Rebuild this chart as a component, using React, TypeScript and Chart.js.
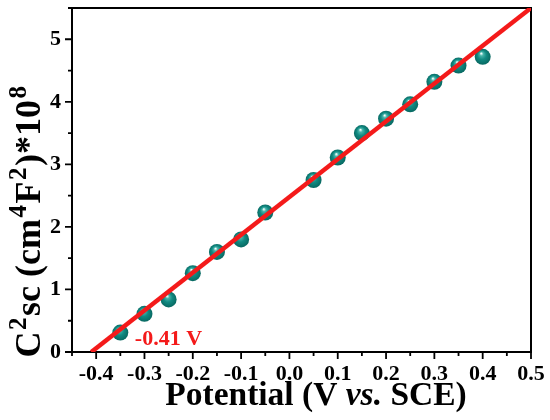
import { useEffect, useRef } from 'react';
import { Chart, registerables, type Plugin } from 'chart.js';

Chart.register(...registerables);

const potentials = [-0.35, -0.3, -0.25, -0.2, -0.15, -0.1, -0.05, 0.05, 0.1, 0.15, 0.2, 0.25, 0.3, 0.35, 0.4];
const cscValues = [0.31, 0.61, 0.84, 1.26, 1.6, 1.8, 2.23, 2.75, 3.11, 3.5, 3.73, 3.96, 4.32, 4.58, 4.72];
const fitX = [-0.41, 0.5];
const fitY = [0, 5.5];
const flatbandLabel = '-0.41 V';

const SERIF = '"Liberation Serif", "Times New Roman", serif';
const TEAL = '#128a82';
const RED = '#f41a1a';

function isMajor(v: number, step: number) {
  const r = v / step;
  return Math.abs(r - Math.round(r)) < 1e-6;
}

const framePlugin: Plugin = {
  id: 'frame',
  beforeDatasetsDraw(chart) {
    const { ctx, chartArea: a, scales } = chart;
    ctx.save();
    ctx.strokeStyle = '#000';
    ctx.lineWidth = 2;
    ctx.strokeRect(a.left, a.top, a.right - a.left, a.bottom - a.top);
    ctx.lineWidth = 1.8;
    ctx.beginPath();
    for (const t of scales.x.ticks) {
      const px = scales.x.getPixelForValue(t.value);
      const len = isMajor(t.value, 0.1) ? 7 : 4;
      ctx.moveTo(px, a.bottom);
      ctx.lineTo(px, a.bottom + len);
    }
    for (const t of scales.y.ticks) {
      const py = scales.y.getPixelForValue(t.value);
      const len = isMajor(t.value, 1) ? 7 : 4;
      ctx.moveTo(a.left, py);
      ctx.lineTo(a.left - len, py);
    }
    ctx.stroke();
    ctx.restore();
  },
  afterDraw(chart) {
    const { ctx, scales } = chart;
    ctx.save();
    // flat-band annotation
    ctx.fillStyle = RED;
    ctx.font = `bold 22px ${SERIF}`;
    ctx.textBaseline = 'alphabetic';
    ctx.textAlign = 'left';
    ctx.fillText(flatbandLabel, scales.x.getPixelForValue(-0.32), scales.y.getPixelForValue(0.11));

    // x title with italic "vs."
    ctx.fillStyle = '#000';
    const parts: [string, string][] = [
      ['Potential (V ', `bold 33.5px ${SERIF}`],
      ['vs.', `italic bold 33.5px ${SERIF}`],
      [' SCE)', `bold 33.5px ${SERIF}`],
    ];
    let total = 0;
    for (const [s, f] of parts) {
      ctx.font = f;
      total += ctx.measureText(s).width;
    }
    let x = 316 - total / 2;
    for (const [s, f] of parts) {
      ctx.font = f;
      ctx.fillText(s, x, 405);
      x += ctx.measureText(s).width;
    }

    // y title with superscripts
    const ypieces: [string, boolean][] = [
      ['C', false], ['2', true], ['sc (cm', false], ['4', true], ['F', false], ['2', true], [')*10', false], ['8', true],
    ];
    const big = `bold 36px ${SERIF}`;
    const small = `bold 25px ${SERIF}`;
    let ylen = 0;
    for (const [s, sup] of ypieces) {
      ctx.font = sup ? small : big;
      ylen += ctx.measureText(s).width + (sup ? 3 : 0);
    }
    ctx.translate(40, 221);
    ctx.rotate(-Math.PI / 2);
    let yx = -ylen / 2;
    for (const [s, sup] of ypieces) {
      ctx.font = sup ? small : big;
      ctx.fillText(s, yx + (sup ? 1.5 : 0), sup ? -14 : 0);
      yx += ctx.measureText(s).width + (sup ? 3 : 0);
    }
    ctx.restore();
  },
};

export default function App() {
  const canvasRef = useRef<HTMLCanvasElement | null>(null);

  useEffect(() => {
    const canvas = canvasRef.current;
    if (!canvas) return;

    const chart = new Chart(canvas, {
      type: 'scatter',
      data: {
        datasets: [
          {
            type: 'line',
            data: fitX.map((x, i) => ({ x, y: fitY[i] })),
            borderColor: RED,
            borderWidth: 4.5,
            pointRadius: 0,
            fill: false,
            order: 0,
          },
          {
            type: 'scatter',
            data: potentials.map((x, i) => ({ x, y: cscValues[i] })),
            pointRadius: 8,
            borderWidth: 0,
            backgroundColor: (c: any) => {
              const ch = c.chart;
              if (!c.parsed || !ch.scales?.x || !ch.scales?.y) return TEAL;
              const px = ch.scales.x.getPixelForValue(c.parsed.x);
              const py = ch.scales.y.getPixelForValue(c.parsed.y);
              if (!Number.isFinite(px) || !Number.isFinite(py)) return TEAL;
              const g = ch.ctx.createRadialGradient(px - 1.5, py - 3.5, 0.3, px, py, 8.5);
              g.addColorStop(0, '#f4fffd');
              g.addColorStop(0.2, '#46b3a9');
              g.addColorStop(0.5, '#118a82');
              g.addColorStop(1, '#07655e');
              return g;
            },
            order: 1,
          },
        ],
      },
      options: {
        animation: false,
        responsive: false,
        layout: { padding: { top: 8, right: 19, left: 0, bottom: 0 } },
        plugins: { legend: { display: false }, tooltip: { enabled: false } },
        scales: {
          x: {
            type: 'linear',
            min: -0.45,
            max: 0.5,
            grid: { display: false, drawTicks: false },
            border: { display: false },
            afterFit: (s: any) => {
              s.height = 68;
              s.paddingLeft = 0;
              s.paddingRight = 0;
            },
            ticks: {
              stepSize: 0.05,
              autoSkip: false,
              maxRotation: 0,
              padding: 9,
              color: '#000',
              font: { family: SERIF, size: 22, weight: 'bold' },
              callback: (v: any) => {
                const n = Number(v);
                if (!isMajor(n, 0.1)) return '';
                return (Math.round(n * 10) / 10).toFixed(1);
              },
            },
          },
          y: {
            type: 'linear',
            min: 0,
            max: 5.5,
            grid: { display: false, drawTicks: false },
            border: { display: false },
            afterFit: (s: any) => {
              s.width = 72;
              s.paddingTop = 0;
              s.paddingBottom = 0;
            },
            ticks: {
              stepSize: 0.5,
              autoSkip: false,
              padding: 11,
              color: '#000',
              font: { family: SERIF, size: 22, weight: 'bold' },
              callback: (v: any) => {
                const n = Number(v);
                return isMajor(n, 1) ? String(Math.round(n)) : '';
              },
            },
          },
        },
      },
      plugins: [framePlugin],
    });

    return () => chart.destroy();
  }, []);

  return (
    <div style={{ position: 'absolute', left: 0, top: 0, width: 550, height: 420, background: '#fff' }}>
      <canvas ref={canvasRef} width={550} height={420} />
    </div>
  );
}
